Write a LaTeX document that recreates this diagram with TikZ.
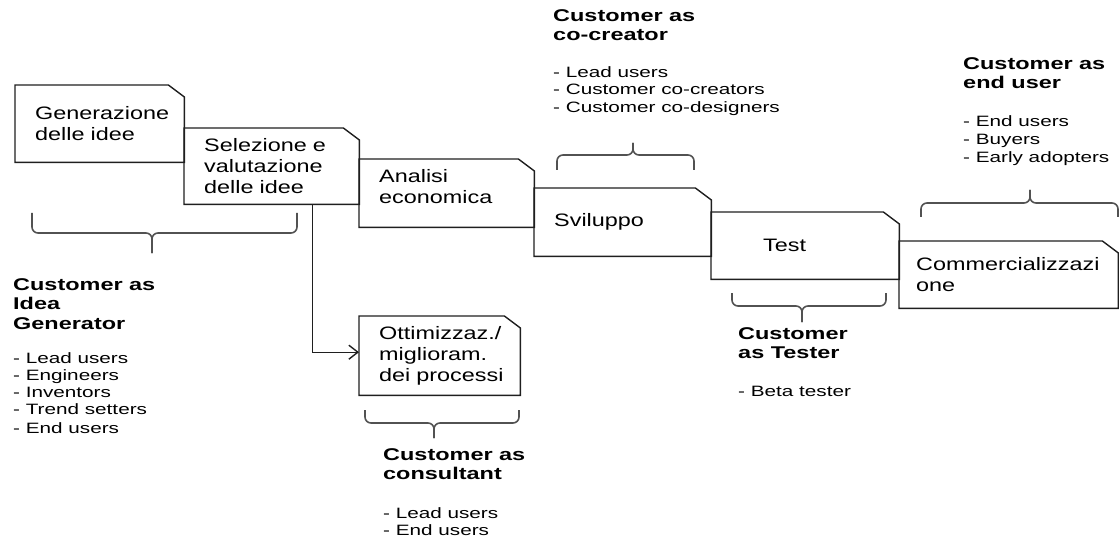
\documentclass[tikz,border=0pt]{standalone}
\usepackage{fontspec}
\setmainfont{Liberation Sans}[FakeStretch=1.3]
\newfontfamily\tagfont{Liberation Sans}[FakeStretch=1.38]
\usetikzlibrary{arrows.meta}
\hyphenpenalty=10000
\exhyphenpenalty=10000

% curly brace: x-left, x-right, y of the ends, y of the bar, y of the tip, x of the tip
\newcommand\curlybrace[6]{%
  \draw[curly] (#1,#3) -- (#1,#4) -- (#6,#4) -- (#6,#5);
  \draw[curly] (#2,#3) -- (#2,#4) -- (#6,#4) -- (#6,#5);}

% outline of a stage box with its top right corner cut off
\newcommand\stageoutline[1]{%
  \draw[outline] (#1.south west) -- (#1.north west) -- ([xshift=-16pt]#1.north east)
    -- ([yshift=-12pt]#1.north east) -- (#1.south east) -- cycle;}

\begin{document}
\begin{tikzpicture}[x=1pt,y=-1pt,
  stage/.style={anchor=north west, inner xsep=20pt, inner ysep=0pt, align=left,
    font=\fontsize{18}{21}\selectfont},
  outline/.style={draw=black!88, line width=1.4pt},
  heading/.style={anchor=north west, inner sep=0pt, align=left,
    font=\tagfont\fontsize{17}{19.5}\bfseries\selectfont},
  roles/.style={anchor=north west, inner sep=0pt, align=left,
    font=\tagfont\fontsize{15}{17}\selectfont},
  curly/.style={draw=black!68, line width=1.6pt, rounded corners=6pt},
  link/.style={draw=black!88, line width=1.4pt, -{Straight Barb[length=9pt,width=14pt]}}
]
\useasboundingbox (0,0) rectangle (1119,540);

% process stages
\node[stage, minimum height=77pt, text width=129pt] (gen) at (15,85) {Generazione\\delle~idee};
\node[stage, minimum height=76pt, text width=135pt] (sel) at (184,128) {Selezione~e\\valutazione\\delle~idee};
\node[stage, minimum height=68pt, text width=135pt, text depth=35pt] (ana) at (359,159) {Analisi\\economica};
\node[stage, minimum height=68pt, text width=137pt] (svi) at (534,188) {Sviluppo};
\node[stage, minimum height=67pt, text width=148pt] (tst) at (711,212) {\hspace*{32pt}Test};
\node[stage, minimum height=67pt, inner xsep=17pt, text width=185pt] (com) at (899,241) {Commercializzazi\\one};
\node[stage, minimum height=79pt, text width=121pt] (opt) at (359,316) {Ottimizzaz./\\miglioram.\\\mbox{dei processi}};

\foreach \s in {gen,sel,ana,svi,tst,com,opt}{\stageoutline{\s}}

% branch towards process optimisation
\draw[link] ([xshift=40.5pt]sel.south) |- ([yshift=3.5pt]opt.west);

% braces
\curlybrace{32}{297}{213}{233}{253}{152}
\curlybrace{557}{694}{170}{155}{143}{633}
\curlybrace{921}{1118}{217}{203}{190}{1030}
\curlybrace{732}{886}{293}{306}{322}{802}
\curlybrace{365}{519}{410}{423}{438}{434}

% customer roles
\node[heading] (ideaT) at (13,278) {Customer as\\Idea\\Generator};
\node[roles] (ideaL) at (13,352) {- Lead users\\- Engineers\\- Inventors\\- Trend setters\\[2pt]- End users};

\node[heading] (consT) at (383,448) {Customer as\\consultant};
\node[roles] (consL) at (383,507) {- Lead users\\- End users};

\node[heading] (coT) at (553,9) {Customer as\\co-creator};
\node[roles] (coL) at (553,66) {- Lead users\\- Customer co-creators\\[1.5pt]- Customer co-designers};

\node[heading] (endT) at (963,57) {Customer as\\end user};
\node[roles] (endL) at (963,115) {- End users\\[1pt]- Buyers\\[1pt]- Early adopters};

\node[heading] (tstT) at (738,327) {Customer\\as Tester};
\node[roles] (tstL) at (738,386) {- Beta tester};
\end{tikzpicture}
\end{document}
